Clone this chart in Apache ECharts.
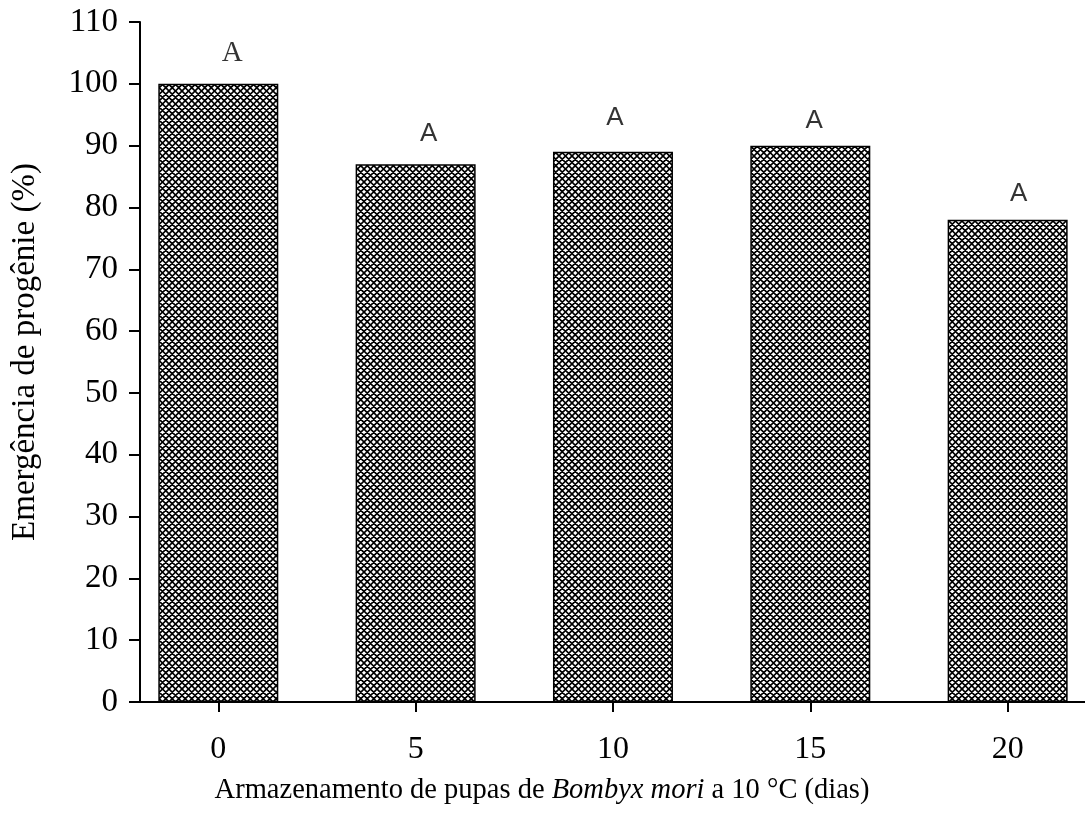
<!DOCTYPE html>
<html>
<head>
<meta charset="utf-8">
<script src="https://cdn.jsdelivr.net/npm/echarts@6/dist/echarts.min.js"></script>
<style>
  html, body { margin: 0; padding: 0; background: #fff; }
  #chart { width: 1085px; height: 828px; }
</style>
</head>
<body>
<div id="chart"></div>
<script>
// Dias de armazenamento das pupas (eixo x)
const dias = [0, 5, 10, 15, 20];
// Emergência de progênie (%)
const emergencia = [100, 87, 89, 90, 78];
// Letras do teste de médias e onde ficam (dias, %)
const letras = ['A', 'A', 'A', 'A', 'A'];
const letrasPos = [[0.35, 103.6], [5.33, 90.8], [10.05, 93.5], [15.1, 93.0], [20.28, 81.1]];
// Marcas do eixo y
const yTicks = [0, 10, 20, 30, 40, 50, 60, 70, 80, 90, 100, 110];

const SERIF = '"Liberation Serif", "Times New Roman", serif';
const SANS = '"Liberation Sans", Arial, sans-serif';

// Hachura cruzada em diagonal para o preenchimento das barras
function hachura() {
  const s = 13;
  const c = document.createElement('canvas');
  c.width = s; c.height = s;
  const g = c.getContext('2d');
  g.fillStyle = '#fff';
  g.fillRect(0, 0, s, s);
  g.strokeStyle = '#000';
  g.lineWidth = 1.6;
  g.beginPath();
  for (let k = -2; k <= 2; k++) {
    const o = k * s / 2;
    g.moveTo(o - 2, -2); g.lineTo(o + s + 2, s + 2);
    g.moveTo(o - 2, s + 2); g.lineTo(o + s + 2, -2);
  }
  g.stroke();
  return c;
}

const chart = echarts.init(document.getElementById('chart'));

chart.setOption({
  animation: false,
  backgroundColor: '#fff',
  grid: { left: 140, right: 0, top: 22, bottom: 126, containLabel: false },
  xAxis: {
    type: 'value',
    min: -1.984,
    max: 21.96,
    axisLine: { show: true, onZero: false, lineStyle: { color: '#000', width: 2 } },
    axisTick: { show: true, length: 10, lineStyle: { color: '#000', width: 2 }, customValues: dias },
    axisLabel: {
      customValues: dias,
      margin: 32,
      color: '#000',
      fontFamily: SERIF,
      fontSize: 32,
      formatter: v => String(v)
    },
    splitLine: { show: false }
  },
  yAxis: {
    type: 'value',
    min: 0,
    max: 110,
    interval: 10,
    axisLine: { show: true, onZero: false, lineStyle: { color: '#000', width: 2 } },
    axisTick: { show: true, length: 11, lineStyle: { color: '#000', width: 2 }, customValues: yTicks },
    axisLabel: {
      customValues: yTicks,
      margin: 22,
      color: '#000',
      fontFamily: SERIF,
      fontSize: 33
    },
    splitLine: { show: false }
  },
  series: [
    {
      type: 'bar',
      barWidth: 120,
      data: dias.map((d, i) => [d, emergencia[i]]),
      itemStyle: {
        color: { image: hachura(), repeat: 'repeat' },
        borderColor: '#000',
        borderWidth: 1.5
      },
      z: 2
    },
    {
      type: 'scatter',
      symbolSize: 1,
      itemStyle: { color: 'rgba(0,0,0,0)' },
      data: letrasPos.map(p => [p[0], p[1]]),
      label: {
        show: true,
        position: 'top',
        distance: 0,
        offset: [0, 7],
        color: '#000',
        formatter: p => (p.dataIndex === 0 ? '{s|' : '{n|') + letras[p.dataIndex] + '}',
        rich: {
          s: { fontFamily: SERIF, fontSize: 29, color: '#000' },
          n: { fontFamily: SANS, fontSize: 26, color: '#000' }
        }
      },
      z: 3
    }
  ],
  graphic: [
    {
      type: 'text',
      x: 25,
      y: 352,
      rotation: Math.PI / 2,
      style: {
        text: 'Emergência de progênie (%)',
        font: '33px ' + SERIF,
        fill: '#000',
        align: 'center',
        verticalAlign: 'middle'
      }
    },
    {
      type: 'text',
      x: 542,
      y: 791,
      style: {
        text: 'Armazenamento de pupas de {i|Bombyx mori} a 10 °C (dias)',
        font: '28.5px ' + SERIF,
        fill: '#000',
        align: 'center',
        verticalAlign: 'middle',
        rich: {
          i: { fontFamily: SERIF, fontSize: 28.5, fontStyle: 'italic', fill: '#000' }
        }
      }
    }
  ]
});
</script>
</body>
</html>
